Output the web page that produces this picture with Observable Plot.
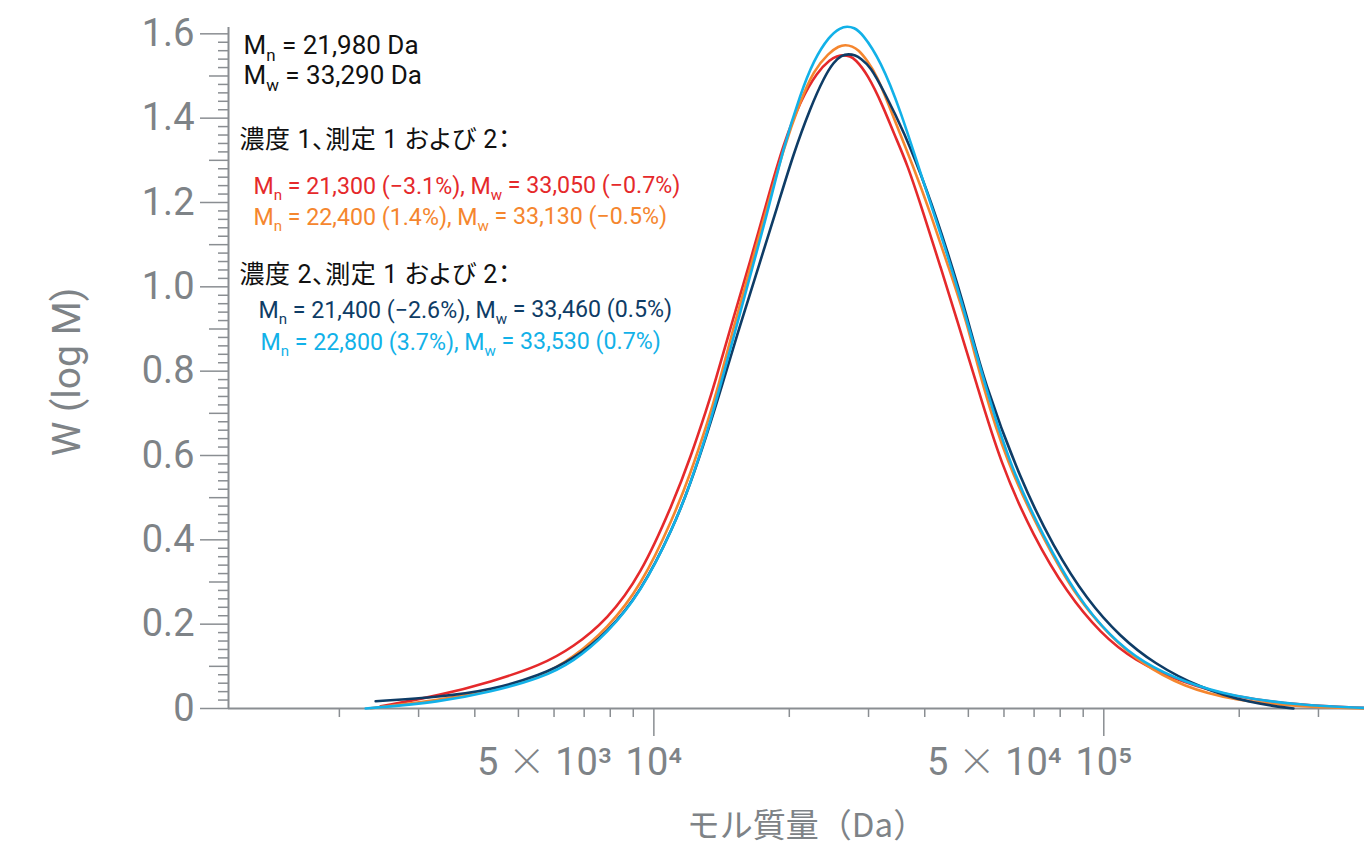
<!DOCTYPE html>
<html><head><meta charset="utf-8">
<script src="https://cdn.jsdelivr.net/npm/d3@7"></script>
<script src="https://cdn.jsdelivr.net/npm/@observablehq/plot@0.6"></script>
<style>
html,body{margin:0;padding:0;background:#fff;}
#chart svg{display:block;}
</style>
</head><body><div id="chart"></div>
<script>
// ---- Data (molar mass in Da, W(log M)) ----
const massRed = [2470, 3357, 4337, 5600, 6630, 7878, 9342, 11060, 12067, 13143, 13573, 15036, 16402, 17865, 19416, 21184, 23075, 24700, 25500, 26395, 27300, 28000, 29800, 32390, 34100, 36570, 39750, 43370, 47230, 52000, 58940, 69800, 82940, 98330, 116400, 150400, 194200, 273500, 379700];
const wRed    = [0.005, 0.0315, 0.063, 0.102, 0.146, 0.211, 0.315, 0.490, 0.596, 0.715, 0.762, 0.928, 1.063, 1.205, 1.340, 1.442, 1.510, 1.540, 1.547, 1.550, 1.547, 1.540, 1.506, 1.426, 1.365, 1.292, 1.174, 1.047, 0.920, 0.775, 0.581, 0.407, 0.2733, 0.1785, 0.1145, 0.060, 0.0275, 0.0078, 0.0014];

const massOrange = [2347, 3357, 4337, 5600, 6630, 7878, 9342, 11060, 12067, 13143, 13834, 15036, 16402, 17865, 19416, 21184, 22643, 24500, 25750, 26666, 27600, 28500, 29800, 31360, 33575, 37770, 41210, 44870, 49710, 53600, 60990, 72330, 85660, 101760, 120650, 150400, 194200, 273500, 379700];
const wOrange    = [0.0007, 0.0197, 0.0434, 0.0749, 0.121, 0.190, 0.288, 0.454, 0.558, 0.676, 0.754, 0.9045, 1.047, 1.189, 1.328, 1.442, 1.513, 1.555, 1.571, 1.574, 1.5705, 1.562, 1.537, 1.500, 1.420, 1.284, 1.174, 1.0555, 0.915, 0.770, 0.5814, 0.4155, 0.2733, 0.1785, 0.1074, 0.0512, 0.0197, 0.0038, 0];

const massNavy = [2408, 3357, 4337, 5600, 6630, 7878, 9342, 11060, 12067, 13143, 14070, 15585, 17262, 18800, 20436, 22296, 23900, 25080, 26150, 27080, 28050, 28800, 30310, 32390, 35885, 40520, 44870, 49710, 54040, 65300, 77300, 91860, 108900, 128950, 164000, 211800, 263900];
const wNavy    = [0.0173, 0.0275, 0.0434, 0.0789, 0.117, 0.180, 0.275, 0.430, 0.534, 0.6525, 0.7544, 0.9132, 1.0626, 1.1889, 1.3162, 1.4259, 1.497, 1.533, 1.549, 1.5525, 1.549, 1.542, 1.522, 1.4655, 1.3707, 1.2285, 1.0863, 0.930, 0.778, 0.5411, 0.383, 0.2567, 0.1697, 0.1074, 0.0481, 0.0126, 0];

const massCyan = [2288, 3357, 4337, 5600, 6630, 7878, 9342, 11060, 12067, 13143, 13927, 15323, 16657, 17865, 19416, 21184, 22643, 24540, 25980, 26900, 27850, 29000, 31900, 35335, 39150, 43370, 48040, 54500, 62040, 73450, 87290, 103500, 122500, 150400, 194200, 273500, 379700];
const wCyan    = [0, 0.0156, 0.0393, 0.0718, 0.1105, 0.1785, 0.2733, 0.4304, 0.534, 0.655, 0.750, 0.913, 1.056, 1.174, 1.331, 1.458, 1.537, 1.595, 1.6147, 1.618, 1.6147, 1.602, 1.537, 1.418, 1.269, 1.127, 0.975, 0.765, 0.5727, 0.4067, 0.2645, 0.1697, 0.1074, 0.063, 0.0275, 0.0078, 0.0014];

const seriesColors = {red: "#e5292b", orange: "#f5862e", navy: "#0e3c66", cyan: "#12b1e8"};

// ---- Axis ticks / labels ----
const yMajorTicks = [0, 0.2, 0.4, 0.6, 0.8, 1.0, 1.2, 1.4, 1.6];
const yMajorLabels = ["0", "0.2", "0.4", "0.6", "0.8", "1.0", "1.2", "1.4", "1.6"];
const yMidTicks = [0.1, 0.3, 0.5, 0.7, 0.9, 1.1, 1.3, 1.5];
const yMinorTicks = d3.range(1, 81).map(i => i / 50).filter((v, i) => (i + 1) % 5 !== 0);
const xMajorTicks = [1e4, 1e5];
const xMajorLabels = ["10\u2074", "10\u2075"];
const xHalfLabels = ["5 \u00d7 10\u00b3", "5 \u00d7 10\u2074"];
const xMinorTicks = [2000, 3000, 4000, 5000, 6000, 7000, 8000, 9000, 20000, 30000, 40000, 50000, 60000, 70000, 80000, 90000, 200000, 300000];
const xDomain = [1134, 379700];
const yDomain = [0, 1.615];

const xTitle = "モル質量（Da）";
const yTitle = "W (log M)";

// ---- Annotations ----
const annotLines = [
  {text: "M_n = 21,980 Da", color: "#111", size: 26, dx: 15, dy: 26},
  {text: "M_w = 33,290 Da", color: "#111", size: 26, dx: 15, dy: 56},
  {text: "濃度 1、測定 1 および 2：", color: "#111", size: 25, dx: 11, dy: 120},
  {text: "M_n = 21,300 (\u22123.1%), M_w = 33,050 (\u22120.7%)", color: seriesColors.red, size: 23.2, dx: 25, dy: 166},
  {text: "M_n = 22,400 (1.4%), M_w = 33,130 (\u22120.5%)", color: seriesColors.orange, size: 23.2, dx: 25, dy: 197},
  {text: "濃度 2、測定 1 および 2：", color: "#111", size: 25, dx: 11, dy: 255},
  {text: "M_n = 21,400 (\u22122.6%), M_w = 33,460 (0.5%)", color: seriesColors.navy, size: 23.2, dx: 30, dy: 290},
  {text: "M_n = 22,800 (3.7%), M_w = 33,530 (0.7%)", color: seriesColors.cyan, size: 23.2, dx: 32, dy: 322}
];

const gray = "#7e8387";
const axisGray = "#8a8e92";

function toRows(M, W) { return M.map((m, i) => ({M: m, W: W[i]})); }

const lineOpts = {x: "M", y: "W", strokeWidth: 2.6, curve: "basis"};

const marks = [
  Plot.ruleX([xDomain[0]], {stroke: axisGray, strokeWidth: 2}),
  Plot.ruleY([0], {stroke: axisGray, strokeWidth: 2}),
  Plot.axisY(yMajorTicks, {tickSize: 28, tickPadding: 6, tickFormat: (d, i) => yMajorLabels[i], fontSize: 38, color: gray, stroke: axisGray, strokeWidth: 1.5, label: null}),
  Plot.axisY(yMidTicks, {tickSize: 19, tickFormat: () => "", stroke: axisGray, strokeWidth: 1.5, label: null}),
  Plot.axisY(yMinorTicks, {tickSize: 10, tickFormat: () => "", stroke: axisGray, strokeWidth: 1.5, label: null}),
  Plot.axisX(xMajorTicks, {tickSize: 28, tickFormat: () => "", stroke: axisGray, strokeWidth: 1.5, label: null}),
  Plot.axisX(xMinorTicks, {tickSize: 9, tickFormat: () => "", stroke: axisGray, strokeWidth: 1.5, label: null}),
  Plot.text(xMajorTicks, {x: d => d, text: (d, i) => xMajorLabels[i], frameAnchor: "bottom", textAnchor: "middle", lineAnchor: "top", dy: 40, fontSize: 38, fill: gray}),
  Plot.text(xMajorTicks, {x: d => d, text: (d, i) => xHalfLabels[i], frameAnchor: "bottom", textAnchor: "end", lineAnchor: "top", dx: -42, dy: 40, fontSize: 38, fill: gray}),
  Plot.text([xTitle], {text: d => d, frameAnchor: "bottom", textAnchor: "middle", lineAnchor: "bottom", dx: 10, dy: 128, fontSize: 33, fill: gray, fontFamily: "'Noto Sans CJK JP', sans-serif"}),
  Plot.text([yTitle], {text: d => d, frameAnchor: "left", textAnchor: "middle", lineAnchor: "bottom", rotate: -90, dx: -149, dy: 4, fontSize: 39, fill: gray}),
  Plot.line(toRows(massRed, wRed), {...lineOpts, stroke: seriesColors.red}),
  Plot.line(toRows(massOrange, wOrange), {...lineOpts, stroke: seriesColors.orange}),
  Plot.line(toRows(massNavy, wNavy), {...lineOpts, stroke: seriesColors.navy}),
  Plot.line(toRows(massCyan, wCyan), {...lineOpts, stroke: seriesColors.cyan}),
  ...annotLines.map(a => Plot.text([a], {text: "text", frameAnchor: "top-left", textAnchor: "start", lineAnchor: "bottom", dx: a.dx, dy: a.dy, fontSize: a.size, fill: a.color}))
];

const plot = Plot.plot({
  width: 1364,
  height: 849,
  marginLeft: 228,
  marginRight: 0,
  marginTop: 27,
  marginBottom: 141,
  x: {type: "log", domain: xDomain, axis: null},
  y: {domain: yDomain, axis: null},
  style: {fontFamily: "Roboto, 'Noto Sans CJK JP', sans-serif", background: "#fff", overflow: "visible"},
  marks
});

// Subscripts ("M_n" -> M with subscript n), wide multiplication sign, proportional JP punctuation
d3.select(plot).selectAll("text").each(function() {
  const t = this.textContent;
  const el = d3.select(this);
  if (/_[nw]/.test(t)) {
    const parts = t.split(/_([nw])/);
    el.text(null);
    parts.forEach((p, i) => {
      if (i % 2 === 1) {
        el.append("tspan").attr("font-size", "65%").attr("dy", "0.43em").text(p);
      } else {
        const ts = el.append("tspan").text(p);
        if (i > 0) ts.attr("dy", "-0.28em");
      }
    });
  } else if (t.includes("\u00d7")) {
    const parts = t.split("\u00d7");
    el.text(null);
    el.append("tspan").text(parts[0]);
    el.append("tspan").attr("font-family", "'Noto Sans CJK JP', sans-serif").attr("font-weight", 300).text("\u00d7");
    el.append("tspan").text(parts[1]);
  } else if (t.includes("濃度")) {
    el.style("font-feature-settings", "'palt'").style("letter-spacing", "0.6px");
  }
});

document.getElementById("chart").append(plot);
</script>
</body></html>
